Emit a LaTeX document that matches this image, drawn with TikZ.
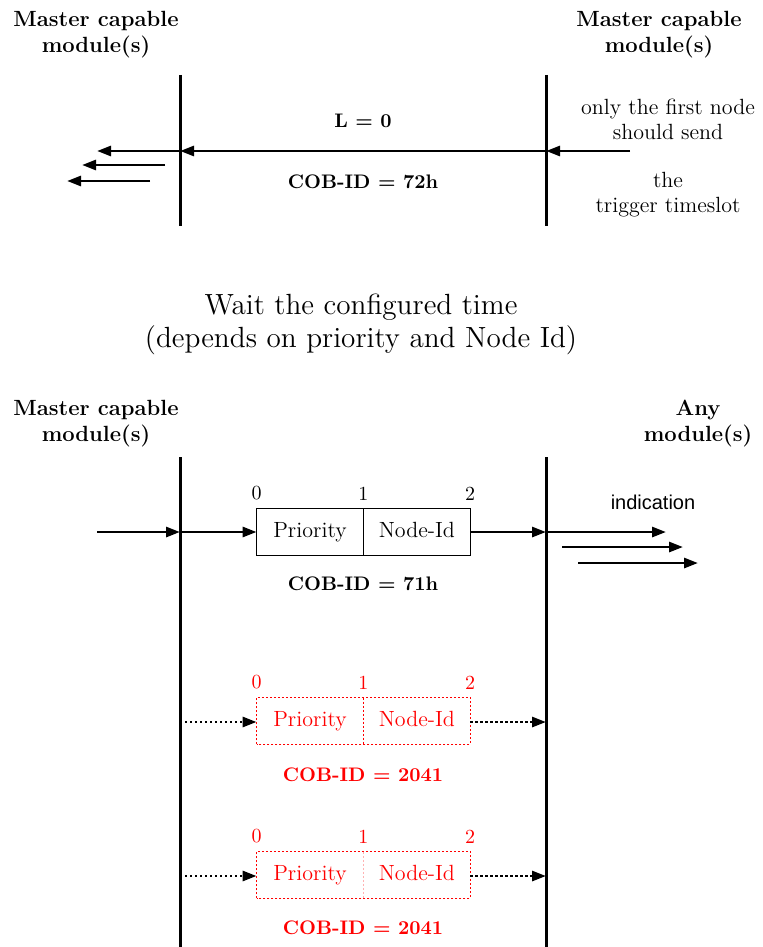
\documentclass[tikz,border=0pt]{standalone}
\usepackage{fontspec}
\IfFileExists{texgyreschola-regular.otf}{%
  \setmainfont{texgyreschola}[Extension=.otf, UprightFont=*-regular, BoldFont=*-bold,
    ItalicFont=*-italic, BoldItalicFont=*-bolditalic]}{}
\newfontfamily\indfont{Liberation Sans}
\usepackage{tikz}
\usetikzlibrary{arrows.meta, positioning}

\begin{document}
\begin{tikzpicture}[
  x=0.5pt, y=-0.5pt,
  >={Triangle[length=7pt, width=5pt]},
  life/.style  = {line width=1.5pt},
  msg/.style   = {->, line width=1.4pt},
  dmsg/.style  = {->, line width=1.4pt, dash pattern=on 1.2pt off 1.3pt},
  head/.style  = {align=center, font=\fontsize{11}{13}\selectfont\bfseries, inner sep=0pt},
  note/.style  = {align=center, font=\fontsize{11}{12.6}\selectfont, inner sep=0pt},
  cob/.style   = {font=\fontsize{9.8}{12}\selectfont\bfseries, inner sep=0pt},
  bit/.style   = {font=\fontsize{10}{12}\selectfont, inner sep=0pt},
  field/.style = {minimum width=53pt, minimum height=23pt, inner sep=0pt,
                  text height=7.5pt, text depth=2pt, font=\fontsize{11}{13}\selectfont},
  alt/.style   = {red},
]
  \useasboundingbox (0,0) rectangle (762,947);

  % --- trigger timeslot -----------------------------------------------
  \node[head] (hMa) at (96,35)  {Master capable\\module(s)};
  \node[head] (hMb) at (659,35) {Master capable\\module(s)};

  \coordinate (aTop) at (180,75);  \coordinate (aBot) at (180,226);
  \coordinate (bTop) at (546,75);  \coordinate (bBot) at (546,226);
  \draw[life] (aTop) -- (aBot);
  \draw[life] (bTop) -- (bBot);

  \coordinate (tSrc) at (630,151);
  \coordinate (tB)   at (546,151);
  \coordinate (tA)   at (180,151);
  \coordinate (tOut) at (97,151);
  \draw[msg] (tSrc) -- (tB);
  \draw[msg] (tB) -- (tA);
  \draw[msg] (tA) -- (tOut);
  \coordinate (tS2) at (165,165);  \coordinate (tE2) at (82,165);
  \coordinate (tS3) at (150,181);  \coordinate (tE3) at (67,181);
  \draw[msg] (tS2) -- (tE2);
  \draw[msg] (tS3) -- (tE3);

  \node[cob]  (lzero) at (363,121) {L = 0};
  \node[cob]  (cobT)  at (363,182) {COB-ID = 72h};
  \node[note] (nFst)  at (668,119) {only the first node\\should send};
  \node[note] (nTrg)  at (668,195) {the\\trigger timeslot};

  \node[align=center, font=\fontsize{14.6}{16.5}\selectfont, inner sep=0pt] (wait) at (361,324)
    {Wait the configured time\\(depends on priority and Node Id)};

  % --- priority / node-id ---------------------------------------------
  \node[head] (hMc)  at (96,424)  {Master capable\\module(s)};
  \node[head] (hAny) at (698,424) {Any\\module(s)};

  \coordinate (cTop) at (180,457);  \coordinate (cBot) at (180,947);
  \coordinate (dTop) at (546,457);  \coordinate (dBot) at (546,947);
  \draw[life] (cTop) -- (cBot);
  \draw[life] (dTop) -- (dBot);

  % request box
  \node[field] (prioA) at (310,532) {Priority};
  \node[field, right=0pt of prioA] (nidA) {Node-Id};
  \draw[line width=0.6pt] (prioA.south west) rectangle (nidA.north east);
  \draw[line width=0.6pt] (prioA.north east) -- (prioA.south east);
  \node[bit, above=4pt of prioA.north west] (bA0) {0};
  \node[bit, above=4pt of prioA.north east] (bA1) {1};
  \node[bit, above=4pt of nidA.north east]  (bA2) {2};

  \coordinate (rIn)  at (97,532);
  \coordinate (rA)   at (180,532);
  \coordinate (rB)   at (546,532);
  \coordinate (rOut) at (666,532);
  \draw[msg] (rIn) -- (rA);
  \draw[msg] (rA) -- (prioA.west);
  \draw[msg] (nidA.east) -- (rB);
  \draw[msg] (rB) -- (rOut);
  \coordinate (rS2) at (562,547);  \coordinate (rE2) at (683,547);
  \coordinate (rS3) at (578,563);  \coordinate (rE3) at (698,563);
  \draw[msg] (rS2) -- (rE2);
  \draw[msg] (rS3) -- (rE3);

  \node[font=\fontsize{10}{12}\indfont, inner sep=0pt] (ind) at (653,502) {indication};
  \node[cob] (cobA) at (363,584) {COB-ID = 71h};

  % collided requests
  \node[field, alt] (prioB) at (310,721) {Priority};
  \node[field, alt, right=0pt of prioB] (nidB) {Node-Id};
  \draw[red, line width=0.6pt, dash pattern=on 1pt off 1pt]
    (prioB.south west) rectangle (nidB.north east);
  \draw[red, line width=0.6pt, dash pattern=on 1pt off 1pt]
    (prioB.north east) -- (prioB.south east);
  \node[bit, alt, above=4pt of prioB.north west] (bB0) {0};
  \node[bit, alt, above=4pt of prioB.north east] (bB1) {1};
  \node[bit, alt, above=4pt of nidB.north east]  (bB2) {2};
  \coordinate (sA) at (180,722);  \coordinate (sB) at (546,722);
  \draw[dmsg] (sA) -- (prioB.west |- sA);
  \draw[dmsg] (nidB.east |- sB) -- (sB);
  \node[cob, alt] (cobB) at (363,775) {COB-ID = 2041};

  \node[field, alt] (prioC) at (310,875) {Priority};
  \node[field, alt, right=0pt of prioC] (nidC) {Node-Id};
  \draw[red, line width=0.6pt, dash pattern=on 1pt off 1pt]
    (prioC.south west) rectangle (nidC.north east);
  \draw[red!30, line width=0.6pt, dash pattern=on 1pt off 1pt]
    (prioC.north east) -- (prioC.south east);
  \node[bit, alt, above=4pt of prioC.north west] (bC0) {0};
  \node[bit, alt, above=4pt of prioC.north east] (bC1) {1};
  \node[bit, alt, above=4pt of nidC.north east]  (bC2) {2};
  \coordinate (uA) at (180,876);  \coordinate (uB) at (546,876);
  \draw[dmsg] (uA) -- (prioC.west |- uA);
  \draw[dmsg] (nidC.east |- uB) -- (uB);
  \node[cob, alt] (cobC) at (363,928) {COB-ID = 2041};
\end{tikzpicture}
\end{document}
